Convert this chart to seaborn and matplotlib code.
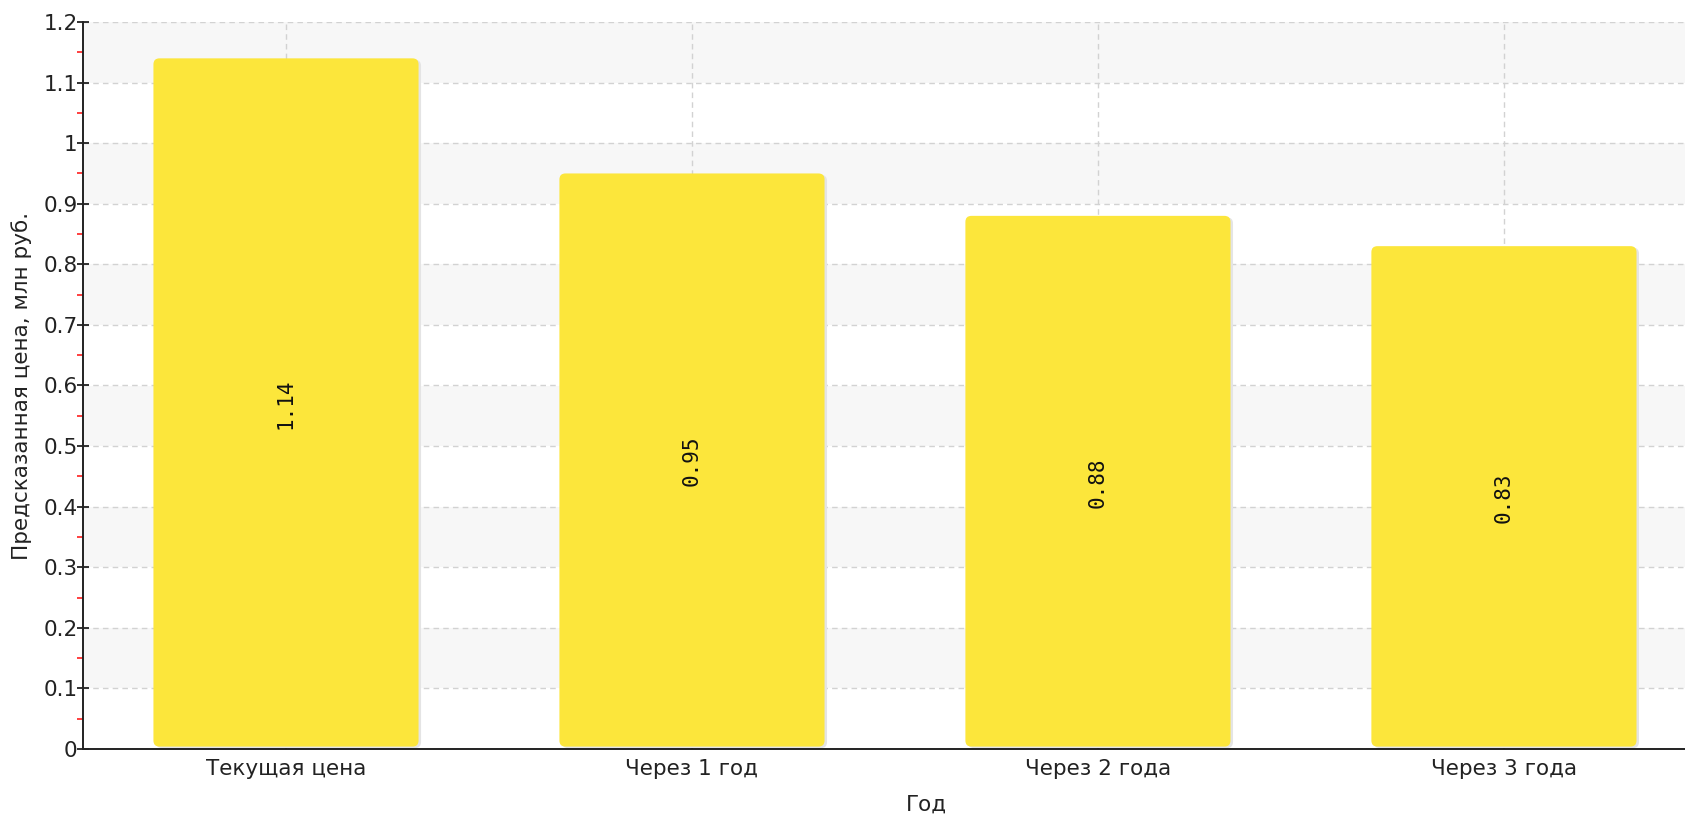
import matplotlib
matplotlib.use("Agg")
import matplotlib.pyplot as plt
import seaborn as sns
import pandas as pd
import numpy as np
from matplotlib.patches import FancyBboxPatch
from matplotlib.ticker import MultipleLocator

categories = ["Текущая цена", "Через 1 год", "Через 2 года", "Через 3 года"]
values = [1.14, 0.95, 0.88, 0.83]
value_labels = ["1.14", "0.95", "0.88", "0.83"]
x_title = "Год"
y_title = "Предсказанная цена, млн руб."

sns.set_style("white")
plt.rcParams['font.family'] = ['DejaVu Sans']

W, H = 1685, 817
fig = plt.figure(figsize=(W / 100, H / 100), dpi=100)
left_px, right_px, top_px, bottom_px = 83, 1685, 22, 749
ax = fig.add_axes([left_px / W, 1 - bottom_px / H, (right_px - left_px) / W, (bottom_px - top_px) / H])

df = pd.DataFrame({"cat": categories, "val": values})
bar_color = "#FCE63B"
sns.barplot(data=df, x="cat", y="val", color=bar_color, width=0.653, ax=ax, saturation=1, zorder=3)

ax.set_ylim(0, 1.2)
ax.set_xlim(-0.5, 3.446)

# alternating bands
for k in range(6):
    lo = 0.1 + 0.2 * k
    ax.axhspan(lo, lo + 0.1, color="#F7F7F7", zorder=0, lw=0)

# grid
ax.yaxis.set_major_locator(MultipleLocator(0.1))
ax.yaxis.set_minor_locator(MultipleLocator(0.05))
ax.grid(True, axis="both", which="major", linestyle=(0, (4, 3)), color="#D2D2D2", linewidth=1.0, zorder=1)
ax.set_axisbelow(True)

# rounded bars
xscale = (right_px - left_px) / (3.446 + 0.5)
yscale = (bottom_px - top_px) / 1.2
r_px = 6
rs = r_px / xscale
aspect = (r_px / yscale) / rs
for p in list(ax.patches):
    if not hasattr(p, "get_width") or p.get_height() <= 0.2:
        continue
    x0, w, h = p.get_x(), p.get_width(), p.get_height()
    y0 = 0.004
    fb = FancyBboxPatch((x0, y0), w, h - y0, boxstyle=f"round,pad=0,rounding_size={rs}",
                        mutation_aspect=aspect, facecolor=bar_color, edgecolor="none", zorder=3)
    shadow = FancyBboxPatch((x0 + 2.5 / xscale, y0 - 1.5 / yscale), w, h - y0, boxstyle=f"round,pad=0,rounding_size={rs}",
                            mutation_aspect=aspect, facecolor="#E4E4E4", edgecolor="none", zorder=2.5)
    p.set_visible(False)
    ax.add_patch(shadow)
    ax.add_patch(fb)

# value labels
for i, (v, lab) in enumerate(zip(values, value_labels)):
    ax.text(i, v / 2, lab, rotation=90, ha="center", va="center", fontsize=15,
            family="DejaVu Sans Mono", color="#111111", zorder=5)

# spines
for s in ["top", "right"]:
    ax.spines[s].set_visible(False)
ax.spines["left"].set_color("#222222")
ax.spines["bottom"].set_color("#222222")
ax.spines["left"].set_linewidth(1.4)
ax.spines["bottom"].set_linewidth(1.4)

ax.set_yticklabels(["0" if abs(t) < 1e-9 else ("1" if abs(t - 1) < 1e-9 else f"{t:.1f}") for t in ax.get_yticks()])
ax.tick_params(axis="y", which="major", left=True, direction="inout", length=8, width=1.3, color="#222222",
               labelsize=15.5, pad=0, labelcolor="#222222")
ax.tick_params(axis="y", which="minor", left=True, direction="out", length=4, width=1.3, color="#FF3030")
ax.tick_params(axis="x", which="major", bottom=True, direction="in", length=4, width=1.3, color="#222222",
               labelsize=15.5, pad=7, labelcolor="#222222")

ax.set_xlabel(x_title, fontsize=15.5, color="#222222")
ax.set_ylabel(y_title, fontsize=15.5, color="#222222")
ax.xaxis.set_label_coords((926 - left_px) / (right_px - left_px), -(805 - bottom_px) / (bottom_px - top_px))
ax.xaxis.label.set_va("center")
ax.yaxis.set_label_coords((22 - left_px) / (right_px - left_px), 0.5)
ax.yaxis.label.set_va("center")

fig.savefig("out.png", dpi=100)
